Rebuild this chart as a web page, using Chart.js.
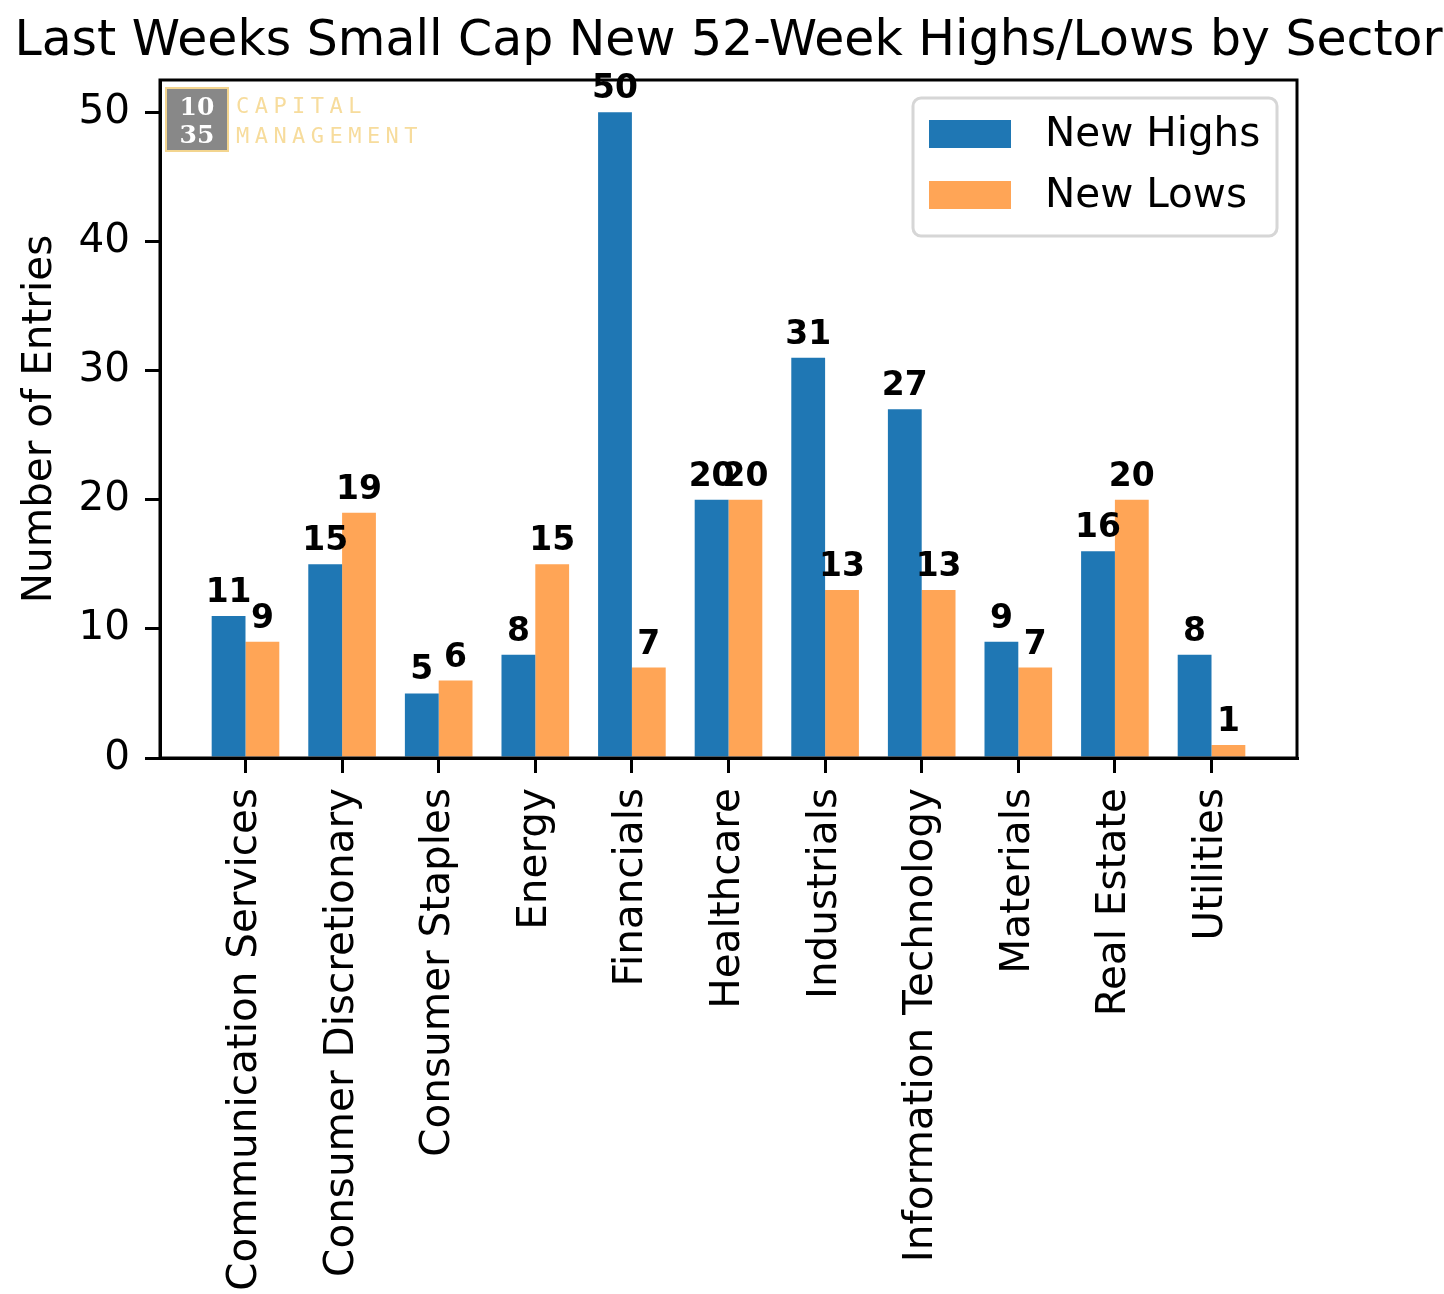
<!DOCTYPE html>
<html>
<head>
<meta charset="utf-8">
<script src="https://cdn.jsdelivr.net/npm/chart.js@4.4.1/dist/chart.umd.min.js"></script>
<style>
	html, body { margin: 0; padding: 0; background: #ffffff; }
	#wrap { width: 1444px; height: 1294px; position: relative; }
</style>
</head>
<body>
<div id="wrap"><canvas id="chart_sectors"></canvas></div>
<script>
// -------- data
const sectors = ['Communication Services', 'Consumer Discretionary', 'Consumer Staples', 'Energy', 'Financials', 'Healthcare', 'Industrials', 'Information Technology', 'Materials', 'Real Estate', 'Utilities'];
const new_highs = [11, 15, 5, 8, 50, 20, 31, 27, 9, 16, 8];
const new_lows = [9, 19, 6, 15, 7, 20, 13, 13, 7, 20, 1];
const y_ticks = [0, 10, 20, 30, 40, 50];
const chart_title = 'Last Weeks Small Cap New 52-Week Highs/Lows by Sector';

const FONT = "'DejaVu Sans', 'Liberation Sans', sans-serif";
const FS = 40.5; // base font size
const col_highs = '#1f77b4';
const col_lows = '#ffa556';

// value labels over each bar
const bar_labels = {
	id: 'bar_labels',
	afterDatasetsDraw(chart){
		const ctx = chart.ctx;
		ctx.save();
		ctx.fillStyle = '#000';
		ctx.font = 'bold 33px ' + FONT;
		ctx.textAlign = 'center';
		ctx.textBaseline = 'alphabetic';
		chart.data.datasets.forEach(function(ds, i){
			chart.getDatasetMeta(i).data.forEach(function(el, j){
				ctx.fillText(String(ds.data[j].y), el.x, el.y - 14);
			});
		});
		ctx.restore();
	}
};

// title, top/right spines, legend box and logo
const frame_legend = {
	id: 'frame_legend',
	afterDraw(chart){
		const ctx = chart.ctx;
		const a = chart.chartArea;
		ctx.save();
		ctx.strokeStyle = '#000';
		ctx.lineWidth = 3;
		ctx.strokeRect(a.left, a.top, a.right - a.left, a.bottom - a.top);

		// title
		ctx.fillStyle = '#000';
		ctx.font = '48.9px ' + FONT;
		ctx.textAlign = 'center';
		ctx.textBaseline = 'alphabetic';
		ctx.fillText(chart_title, (a.left + a.right) / 2, a.top - 25);

		// legend
		const lx = a.right - 384, ly = a.top + 18, lw = 364, lh = 138;
		ctx.beginPath();
		ctx.roundRect(lx, ly, lw, lh, 8);
		ctx.fillStyle = 'rgba(255,255,255,0.8)';
		ctx.fill();
		ctx.strokeStyle = '#d6d6d6';
		ctx.lineWidth = 3;
		ctx.stroke();
		ctx.font = FS + 'px ' + FONT;
		ctx.textAlign = 'left';
		ctx.textBaseline = 'middle';
		chart.data.datasets.forEach(function(ds, i){
			const yy = ly + 22 + i * 61;
			ctx.fillStyle = ds.backgroundColor;
			ctx.fillRect(lx + 16, yy, 82, 28);
			ctx.fillStyle = '#000';
			ctx.fillText(ds.label, lx + 132, yy + 15);
		});

		// logo
		const bx = a.left + 6, by = a.top + 8;
		ctx.fillStyle = '#888888';
		ctx.fillRect(bx, by, 62, 63);
		ctx.strokeStyle = '#f3d58f';
		ctx.lineWidth = 2;
		ctx.strokeRect(bx, by, 62, 63);
		ctx.fillStyle = '#ffffff';
		ctx.font = 'bold 25px "DejaVu Serif", "Liberation Serif", serif';
		ctx.textAlign = 'center';
		ctx.textBaseline = 'alphabetic';
		ctx.fillText('10', bx + 31, by + 27);
		ctx.fillText('35', bx + 31, by + 55);
		ctx.fillStyle = '#f7dc9c';
		ctx.font = '22px "DejaVu Sans Mono", monospace';
		ctx.textAlign = 'left';
		['CAPITAL', 'MANAGEMENT'].forEach(function(word, r){
			word.split('').forEach(function(ch, k){
				ctx.fillText(ch, bx + 70 + k * 18.7, by + 25 + r * 30);
			});
		});
		ctx.restore();
	}
};

new Chart(document.getElementById('chart_sectors'), {
	type: 'bar',
	data: {
		datasets: [
			{
				label: 'New Highs',
				data: new_highs.map((v, i) => ({x: i, y: v})),
				backgroundColor: col_highs,
				borderWidth: 0
			},
			{
				label: 'New Lows',
				data: new_lows.map((v, i) => ({x: i, y: v})),
				backgroundColor: col_lows,
				borderWidth: 0
			}
		]
	},
	options: {
		responsive: true,
		maintainAspectRatio: false,
		animation: false,
		devicePixelRatio: 1,
		categoryPercentage: 0.7,
		barPercentage: 1,
		layout: { padding: { left: 0, right: 147, top: 80, bottom: 0 } },
		plugins: {
			legend: { display: false },
			tooltip: { enabled: false },
			title: { display: false }
		},
		scales: {
			x: {
				type: 'linear',
				offset: false,
				min: -0.885,
				max: 10.885,
				afterBuildTicks: function(axis){ axis.ticks = sectors.map((s, i) => ({value: i})); },
				afterFit: function(axis){ axis.height = 536; },
				grid: { offset: false, drawOnChartArea: false, color: '#000', lineWidth: 3, tickLength: 15 },
				border: { color: '#000', width: 3 },
				ticks: {
					autoSkip: false,
					minRotation: 90,
					maxRotation: 90,
					padding: 15,
					color: '#000',
					font: { family: FONT, size: FS },
					callback: function(v){ return sectors[v]; }
				}
			},
			y: {
				min: 0,
				max: 52.5,
				afterBuildTicks: function(axis){ axis.ticks = y_ticks.map(v => ({value: v})); },
				afterFit: function(axis){ axis.width = 160; },
				grid: { drawOnChartArea: false, color: '#000', lineWidth: 3, tickLength: 15 },
				border: { color: '#000', width: 3 },
				title: {
					display: true,
					text: 'Number of Entries',
					color: '#000',
					font: { family: FONT, size: FS },
					padding: { top: 16, bottom: 0 }
				},
				ticks: {
					padding: 15,
					color: '#000',
					font: { family: FONT, size: FS }
				}
			}
		}
	},
	plugins: [bar_labels, frame_legend]
});
</script>
</body>
</html>
